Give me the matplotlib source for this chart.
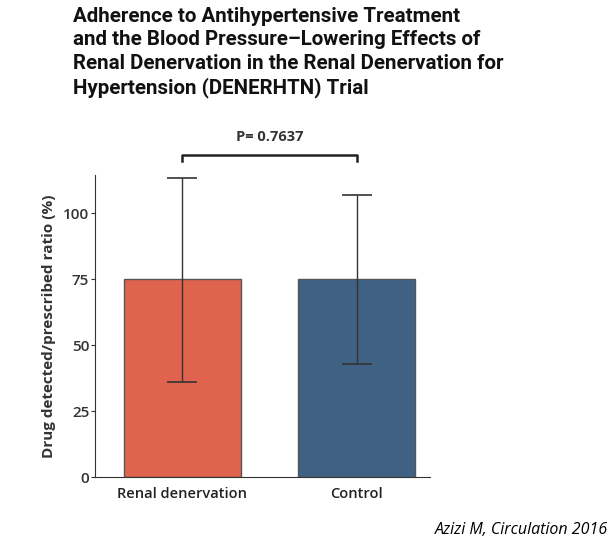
import matplotlib.pyplot as plt

groups = ["Renal denervation", "Control"]
means = [75, 75]
err_low = [36, 43]
err_high = [113.5, 107]
yticks = [0, 25, 50, 75, 100]
p_text = "P= 0.7637"
colors = ["#E0634D", "#3F6184"]

fig = plt.figure(figsize=(6.12, 5.44), dpi=100)
ax = fig.add_axes([0.155, 0.123, 0.548, 0.555])

x = list(range(len(groups)))
ax.bar(x, means, width=0.67, color=colors, edgecolor="#555555", linewidth=1)
lo = [m - l for m, l in zip(means, err_low)]
hi = [h - m for m, h in zip(means, err_high)]
ax.errorbar(x, means, yerr=[lo, hi], fmt="none", ecolor="#333333",
            elinewidth=1, capsize=11, capthick=1.2)

ax.set_xlim(-0.5, 1.42)
ax.set_ylim(0, 114.4)
ax.set_yticks(yticks)
ax.set_xticks(x)
ax.set_xticklabels(groups, family="Open Sans", fontsize=10.5, fontweight="semibold",
                   color="#222222")
ax.tick_params(axis="y", labelsize=11, length=3, color="#333333", pad=1,
               labelcolor="#333333")
ax.tick_params(axis="x", length=0, pad=7)
for lab in ax.get_yticklabels():
    lab.set_family("Open Sans")
    lab.set_fontweight("semibold")
for s in ["top", "right"]:
    ax.spines[s].set_visible(False)
for s in ["left", "bottom"]:
    ax.spines[s].set_color("#333333")
ax.set_ylabel("Drug detected/prescribed ratio (%)", family="Open Sans",
              fontsize=11, fontweight="bold", labelpad=5, color="#333333")

# significance bracket
ax.plot([x[0], x[0], x[1], x[1]], [119.8, 122, 122, 119.8], color="#222222",
        lw=1.8, clip_on=False)
ax.text((x[0] + x[1]) / 2, 128.8, p_text, ha="center", va="center",
        family="Open Sans", fontsize=10.5, fontweight="bold", color="#333333")

fig.text(0.119, 0.988, "Adherence to Antihypertensive Treatment\n"
         "and the Blood Pressure\u2013Lowering Effects of\n"
         "Renal Denervation in the Renal Denervation for\n"
         "Hypertension (DENERHTN) Trial",
         ha="left", va="top", family=["Roboto", "DejaVu Sans"],
         fontsize=14.8, fontweight="bold", linespacing=1.3, color="#111111")

fig.text(0.993, 0.025, "Azizi M, Circulation 2016", ha="right", va="center",
         family="Open Sans", fontsize=11.5, style="italic")

fig.savefig("out.png", dpi=100)
